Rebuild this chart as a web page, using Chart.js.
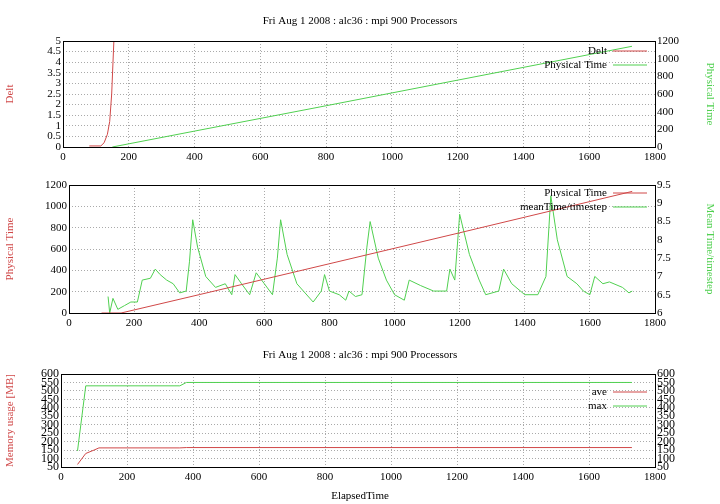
<!DOCTYPE html>
<html><head><meta charset="utf-8">
<script src="https://cdn.jsdelivr.net/npm/chart.js@4.4.0/dist/chart.umd.min.js"></script>
<style>
body{margin:0;background:#fff;width:720px;height:504px;position:relative;overflow:hidden}
canvas{position:absolute;left:0}
</style></head><body>
<canvas id="c1" style="top:0"></canvas>
<canvas id="c2" style="top:165px"></canvas>
<canvas id="c3" style="top:335px"></canvas>
<script>
// panel 1
const deltPts = [[80,0.05],[115,0.05],[125,0.2],[135,0.6],[142,1.2],[148,2.5],[152,4],[156,5.5]];
const physPts = [[150,0],[400,180],[800,467],[1200,757],[1730,1140]];
// panel 2
const phys2Pts = [[100,0],[160,0],[400,172],[800,462],[1200,752],[1730,1140]];
const meanPts = [[120,6.45],[125,6.0],[135,6.4],[150,6.1],[170,6.2],[190,6.3],[210,6.3],[225,6.9],[250,6.95],[265,7.2],[280,7.05],[300,6.9],[320,6.8],[340,6.55],[360,6.6],[370,7.4],[380,8.55],[395,7.8],[420,7.0],[450,6.7],[480,6.8],[500,6.5],[510,7.05],[530,6.8],[555,6.5],[575,7.1],[600,6.8],[625,6.5],[640,7.5],[650,8.55],[670,7.6],[700,6.8],[750,6.3],[775,6.6],[785,7.05],[800,6.6],[830,6.5],[850,6.35],[860,6.6],[880,6.45],[900,6.5],[915,7.8],[925,8.5],[950,7.5],[975,6.9],[1000,6.5],[1030,6.35],[1045,6.9],[1080,6.75],[1120,6.6],[1160,6.6],[1170,7.2],[1185,6.9],[1200,8.7],[1230,7.6],[1260,6.9],[1280,6.5],[1320,6.6],[1335,7.2],[1360,6.8],[1400,6.5],[1440,6.5],[1465,7.0],[1480,9.2],[1500,8.0],[1530,7.0],[1560,6.8],[1580,6.6],[1600,6.5],[1615,7.0],[1640,6.8],[1660,6.85],[1700,6.7],[1720,6.55],[1730,6.6]];
// panel 3
const avePts = [[50,65],[75,130],[100,150],[115,163],[360,163],[380,165],[1730,165]];
const maxPts = [[50,145],[75,530],[360,530],[380,550],[1730,550]];
const titleText = 'Fri Aug 1 2008 : alc36 : mpi 900 Processors';

const RED = '#d04848', GREEN = '#50d050';
const FONT = '"Liberation Serif", "DejaVu Serif", serif';
Chart.defaults.font.family = FONT;
Chart.defaults.font.size = 11;
Chart.defaults.color = '#000';

const toXY = a => a.map(p => ({x: p[0], y: p[1]}));
const plain = v => String(Math.round(v * 100) / 100);

const framePlugin = {
  id: 'frame',
  afterDraw(ch, args, o) {
    const {ctx, chartArea: a} = ch;
    ctx.save();
    ctx.strokeStyle = '#000'; ctx.lineWidth = 1;
    ctx.strokeRect(a.left + .5, a.top + .5, a.width, a.height);
    ctx.font = '11px ' + FONT; ctx.fillStyle = '#000';
    ctx.textAlign = 'center';
    if (o.title) ctx.fillText(o.title, 360, o.titleY);
    if (o.xlabel) ctx.fillText(o.xlabel, 360, o.xlabelY);
    ctx.textAlign = 'right'; ctx.textBaseline = 'middle';
    ch.data.datasets.forEach((d, i) => {
      const y = a.top + 10 + i * 14 + (o.legendOff || 0);
      ctx.fillStyle = '#000';
      ctx.fillText(d.label, a.right - 48, y);
      ctx.strokeStyle = d.borderColor;
      ctx.beginPath(); ctx.moveTo(a.right - 42, y); ctx.lineTo(a.right - 8, y); ctx.stroke();
    });
    ctx.restore();
  }
};

function yAxis(pos, min, max, step, title, color, w, grid, fs) {
  return {
    type: 'linear', position: pos, min, max,
    ticks: {stepSize: step, padding: 2, autoSkip: false, callback: plain, font: {size: fs || 11}},
    grid: {display: grid, color: '#aaa', drawTicks: false},
    border: {display: false, dash: [1, 2]},
    title: {display: !!title, text: title, color},
    afterFit(s) { s.width = w; }
  };
}

function make(id, h, padTop, xh, datasets, scales, frameOpts) {
  const cv = document.getElementById(id);
  cv.width = 720; cv.height = h;
  cv.style.width = '720px'; cv.style.height = h + 'px';
  scales.x = {
    type: 'linear', min: 0, max: 1800,
    ticks: {stepSize: 200, padding: 4, callback: plain},
    grid: {color: '#aaa', drawTicks: false},
    border: {display: false, dash: [1, 2]},
    afterFit(s) { s.height = xh; }
  };
  return new Chart(cv, {
    type: 'line',
    data: {datasets},
    options: {
      responsive: false, animation: false,
      layout: {padding: {top: padTop, left: 0, right: 0, bottom: 0}},
      elements: {point: {radius: 0}, line: {borderWidth: 1, tension: 0}},
      plugins: {legend: {display: false}, tooltip: {enabled: false}, frame: frameOpts},
      scales
    },
    plugins: [framePlugin]
  });
}

make('c1', 165, 41, 18, [
  {label: 'Delt', data: toXY(deltPts), borderColor: RED, yAxisID: 'y'},
  {label: 'Physical Time', data: toXY(physPts), borderColor: GREEN, yAxisID: 'y2'}
], {
  y: yAxis('left', 0, 5, 0.5, 'Delt', RED, 63, true),
  y2: yAxis('right', 0, 1200, 200, 'Physical Time', GREEN, 65, false)
}, {title: titleText, titleY: 24});

make('c2', 170, 20, 22, [
  {label: 'Physical Time', data: toXY(phys2Pts), borderColor: RED, yAxisID: 'y'},
  {label: 'meanTime/timestep', data: toXY(meanPts), borderColor: GREEN, yAxisID: 'y2'}
], {
  y: yAxis('left', 0, 1200, 200, 'Physical Time', RED, 69, true),
  y2: yAxis('right', 6, 9.5, 0.5, 'Mean Time/timestep', GREEN, 65, false)
}, {legendOff: -2});

make('c3', 169, 39, 37, [
  {label: 'ave', data: toXY(avePts), borderColor: RED, yAxisID: 'y'},
  {label: 'max', data: toXY(maxPts), borderColor: GREEN, yAxisID: 'y2'}
], {
  y: yAxis('left', 50, 600, 50, 'Memory usage [MB]', RED, 61, true, 12),
  y2: yAxis('right', 50, 600, 50, '', GREEN, 65, false, 12)
}, {title: titleText, titleY: 23, xlabel: 'ElapsedTime', xlabelY: 164, legendOff: 8});
</script>
</body></html>
